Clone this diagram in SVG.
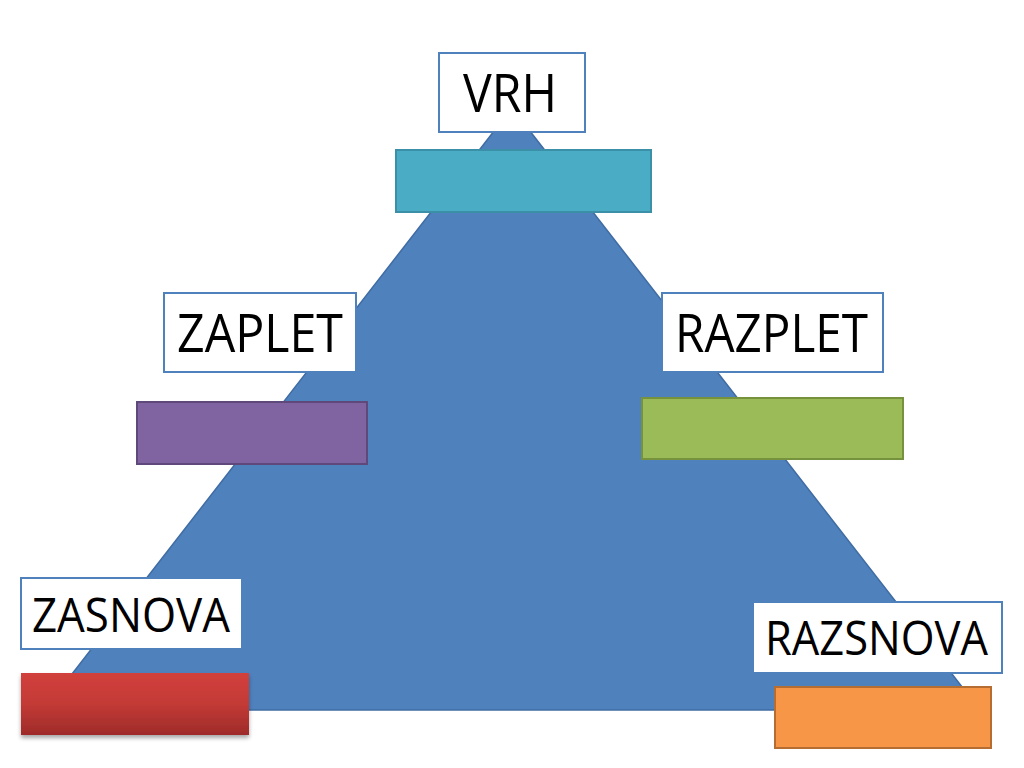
<svg xmlns="http://www.w3.org/2000/svg" width="1024" height="768" viewBox="0 0 1024 768">
<defs>
<style>
.lbl{fill:#FFFFFF;stroke:#4F81BD;stroke-width:2}
.txt{font-family:"Open Sans","Liberation Sans",sans-serif;fill:#000000}
.big{font-size:53px}
.small{font-size:47px}
</style>
<linearGradient id="redg" x1="0" y1="0" x2="0" y2="1">
<stop offset="0" stop-color="#D2403C"/>
<stop offset="0.5" stop-color="#C33A36"/>
<stop offset="1" stop-color="#9E2B29"/>
</linearGradient>
<filter id="shadow" x="-10%" y="-20%" width="120%" height="150%">
<feGaussianBlur in="SourceAlpha" stdDeviation="2"/>
<feOffset dx="0" dy="3" result="b"/>
<feComponentTransfer><feFuncA type="linear" slope="0.35"/></feComponentTransfer>
<feMerge><feMergeNode/><feMergeNode in="SourceGraphic"/></feMerge>
</filter>
</defs>
<rect width="1024" height="768" fill="#FFFFFF"/>
<g id="triangle">
<polygon points="512,108 44,710 980,710" fill="#4F81BD" stroke="#3F6CA3" stroke-width="1.5"/>
</g>
<g id="connectors"></g>
<g id="vrh">
<rect class="lbl" x="439" y="53" width="146" height="79"/>
<text class="txt big" x="463" y="112" textLength="94" lengthAdjust="spacingAndGlyphs">VRH</text>
</g>
<g id="vrh-bar">
<rect x="396" y="150" width="255" height="62" fill="#4BACC6" stroke="#3B8FA6" stroke-width="2"/>
</g>
<g id="zaplet">
<rect class="lbl" x="164" y="293" width="192" height="79"/>
<text class="txt big" x="177" y="352" textLength="166" lengthAdjust="spacingAndGlyphs">ZAPLET</text>
</g>
<g id="zaplet-bar">
<rect x="137" y="402" width="230" height="62" fill="#8064A2" stroke="#5E497A" stroke-width="2"/>
</g>
<g id="razplet">
<rect class="lbl" x="662" y="293" width="221" height="79"/>
<text class="txt big" x="675" y="352" textLength="193" lengthAdjust="spacingAndGlyphs">RAZPLET</text>
</g>
<g id="razplet-bar">
<rect x="642" y="398" width="261" height="61" fill="#9BBB59" stroke="#76923C" stroke-width="2"/>
</g>
<g id="zasnova">
<rect class="lbl" x="21" y="578" width="221" height="71"/>
<text class="txt small" x="32" y="632" textLength="198" lengthAdjust="spacingAndGlyphs">ZASNOVA</text>
</g>
<g id="zasnova-bar">
<rect x="21" y="673" width="228" height="62" fill="url(#redg)" filter="url(#shadow)"/>
</g>
<g id="razsnova">
<rect class="lbl" x="753" y="602" width="249" height="71"/>
<text class="txt small" x="765" y="655" textLength="223" lengthAdjust="spacingAndGlyphs">RAZSNOVA</text>
</g>
<g id="razsnova-bar">
<rect x="775" y="687" width="216" height="61" fill="#F79646" stroke="#B66D31" stroke-width="2"/>
</g>
</svg>
